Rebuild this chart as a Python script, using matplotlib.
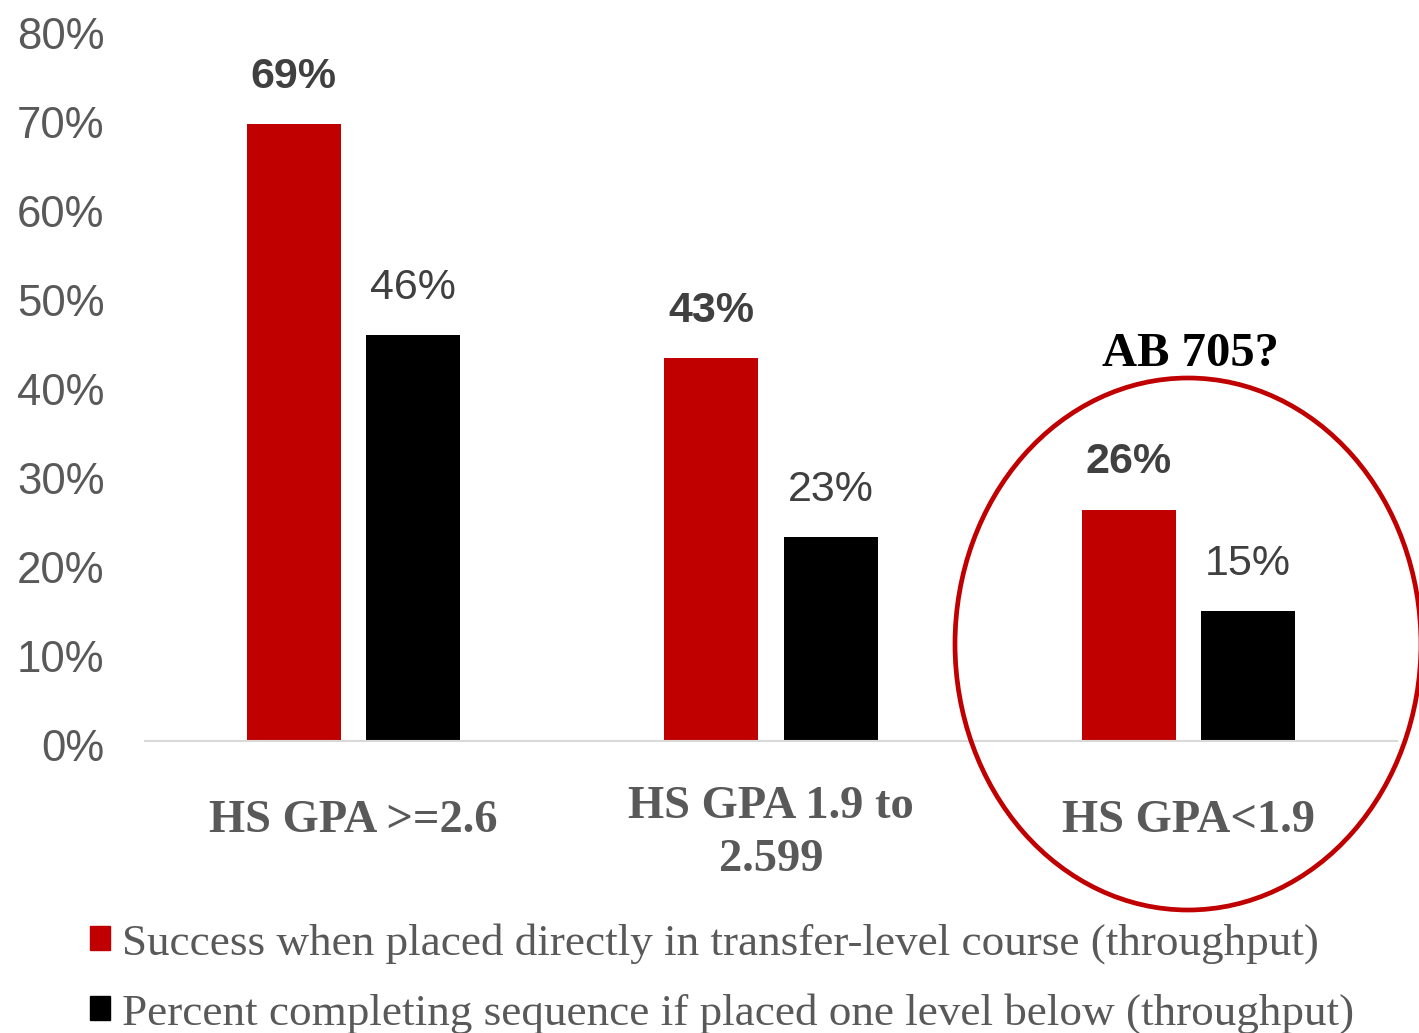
import numpy as np
import matplotlib.pyplot as plt
from matplotlib.patches import Ellipse, Patch
from matplotlib.transforms import blended_transform_factory, ScaledTranslation

categories = ["HS GPA >=2.6", "HS GPA 1.9 to\n2.599", "HS GPA<1.9"]
direct = [0.693, 0.430, 0.260]       # placed directly in transfer-level
below = [0.456, 0.229, 0.146]        # placed one level below
series_names = [
    "Success when placed directly in transfer-level course (throughput)",
    "Percent completing sequence if placed one level below (throughput)",
]

RED = "#C00000"
GRAY = "#595959"
DARK = "#404040"

fig = plt.figure(figsize=(14.19, 10.33), dpi=100)
ax = fig.add_axes([0.102, 0.2827, 0.8825, 0.6893])

x = np.arange(len(categories))
w = 0.225
off = 0.143
b1 = ax.bar(x - off, direct, w, color=RED)
b2 = ax.bar(x + off, below, w, color="black")

for rect, v in zip(b1, direct):
    ax.annotate(f"{v:.0%}", (rect.get_x() + rect.get_width() / 2, v),
                xytext=(0, 34), textcoords="offset points", ha="center", va="center",
                fontsize=31, fontweight="bold", color=DARK, family="Liberation Sans")
for rect, v in zip(b2, below):
    ax.annotate(f"{v:.0%}", (rect.get_x() + rect.get_width() / 2, v),
                xytext=(0, 34), textcoords="offset points", ha="center", va="center",
                fontsize=31, color=DARK, family="Liberation Sans")

ax.set_xlim(-0.5, 2.5)
ax.set_ylim(0, 0.8)
ticks = np.arange(0, 0.81, 0.1)
ax.set_yticks(ticks)
ax.set_yticklabels([f"{int(round(t * 100))}%" for t in ticks],
                   fontsize=31.5, color=GRAY, family="Liberation Sans")
ax.tick_params(axis="y", length=0, pad=29)
shift = ScaledTranslation(0, -4 / 100, fig.dpi_scale_trans)
for lab in ax.get_yticklabels():
    lab.set_transform(lab.get_transform() + shift)
ax.set_xticks([])
for s in ["top", "right", "left"]:
    ax.spines[s].set_visible(False)
ax.spines["bottom"].set_color("#D9D9D9")
ax.spines["bottom"].set_linewidth(1.5)

tr = blended_transform_factory(ax.transData, ax.transAxes)
label_y = [-0.112, -0.130, -0.112]
for xi, lab, ly in zip(x, categories, label_y):
    ax.text(xi, ly, lab, transform=tr, ha="center", va="center",
            fontsize=33.5, fontweight="bold", color=GRAY, family="Liberation Serif",
            linespacing=1.32)

# annotation circle around the last group
fig.patches.append(Ellipse((1188 / 1419, 1 - 644 / 1033), 466 / 1419, 532 / 1033,
                           transform=fig.transFigure, fill=False, edgecolor=RED,
                           linewidth=3.4))
fig.text(1190 / 1419, 1 - 354 / 1033, "AB 705?", ha="center", va="center",
         fontsize=35, fontweight="bold", color="black", family="Liberation Serif")

handles = [Patch(color=RED), Patch(color="black")]
fig.legend(handles, series_names, loc="upper left", bbox_to_anchor=(90 / 1419, 1 - 923 / 1033),
           frameon=False, labelcolor=GRAY, handlelength=0.44, handleheight=0.44,
           handletextpad=0.27, labelspacing=0.64, borderpad=0, borderaxespad=0,
           prop={"family": "Liberation Serif", "size": 32.5})

fig.savefig("out.png", dpi=100)
